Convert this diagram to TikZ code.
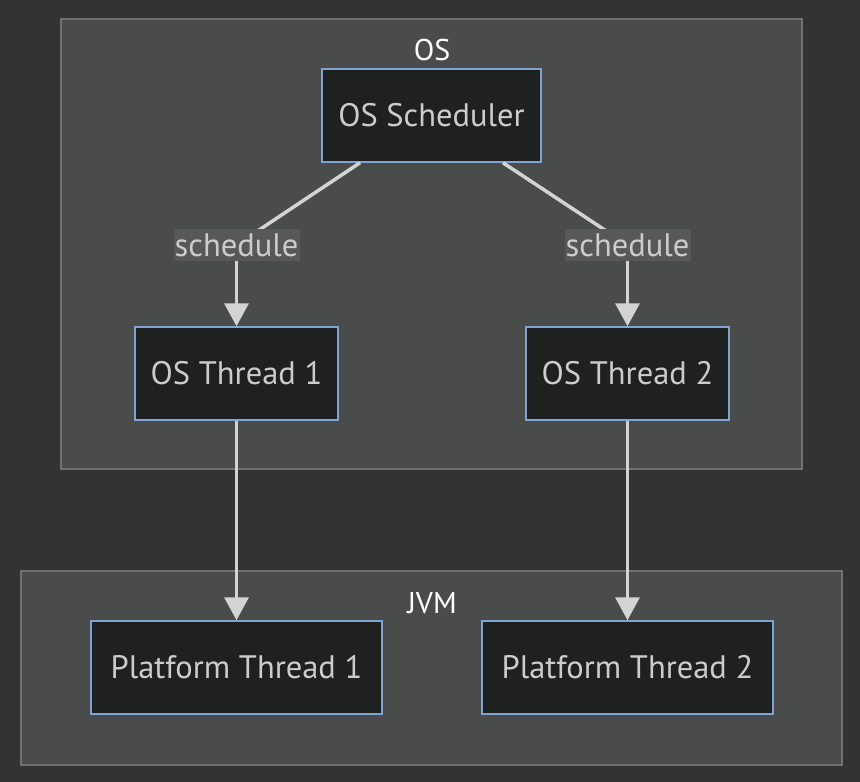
\documentclass[tikz,border=0pt]{standalone}
\usepackage{fontspec}
\setmainfont{PT Sans}
\usetikzlibrary{arrows.meta}
\definecolor{bgc}{HTML}{333333}
\definecolor{clfill}{HTML}{4A4B4B}
\definecolor{cldraw}{HTML}{707070}
\definecolor{nfill}{HTML}{1F2020}
\definecolor{ndraw}{HTML}{81A3D0}
\definecolor{ntext}{HTML}{CCCCCC}
\definecolor{edgec}{HTML}{D3D3D3}
\definecolor{lblfill}{HTML}{585858}
\tikzset{
  cluster/.style={fill=clfill, draw=cldraw, line width=1.5pt},
  box/.style={fill=nfill, draw=ndraw, line width=1.5pt, text=ntext, font=\fontsize{32.5}{36}\selectfont, inner sep=0pt},
  title/.style={text=white, font=\fontsize{30}{34}\selectfont},
  lbl/.style={fill=lblfill, text=ntext, font=\fontsize{32.5}{36}\selectfont, inner sep=0pt, minimum width=126pt, minimum height=32pt},
  edge/.style={draw=edgec, line width=3.5pt, -{Triangle[width=24pt,length=23pt]}},
  edgeplain/.style={draw=edgec, line width=3.5pt}
}
\begin{document}
\begin{tikzpicture}[x=1pt,y=-1pt]
\fill[bgc] (0,0) rectangle (860,782);
\useasboundingbox (0,0) rectangle (860,782);
\draw[cluster] (61,19) rectangle (802,469);
\draw[cluster] (21,571) rectangle (842,765);
\node[title] (ostitle) at (432,50) {OS};
\node[title] (jvmtitle) at (432,603) {JVM};
\node[box, minimum width=219pt, minimum height=93pt] (sched) at (431.5,115.5) {OS Scheduler};
\node[box, minimum width=203pt, minimum height=93pt] (t1) at (236.5,373.5) {OS Thread 1};
\node[box, minimum width=203pt, minimum height=93pt] (t2) at (627.5,373.5) {OS Thread 2};
\node[box, minimum width=291pt, minimum height=93pt] (p1) at (236.5,667.5) {Platform Thread 1};
\node[box, minimum width=291pt, minimum height=93pt] (p2) at (627.5,667.5) {Platform Thread 2};
\coordinate (s1) at ([xshift=-71.5pt]sched.south);
\coordinate (s2) at ([xshift=71.5pt]sched.south);
\coordinate (c1) at (236.5,245);
\coordinate (c2) at (627.5,245);
\draw[edgeplain] (s1) -- (c1);
\draw[edgeplain] (s2) -- (c2);
\draw[edge] (c1) -- (t1.north);
\draw[edge] (c2) -- (t2.north);
\node[lbl] (l1) at (c1) {schedule};
\node[lbl] (l2) at (c2) {schedule};
\draw[edge] (t1.south) -- (p1.north);
\draw[edge] (t2.south) -- (p2.north);
\end{tikzpicture}
\end{document}
